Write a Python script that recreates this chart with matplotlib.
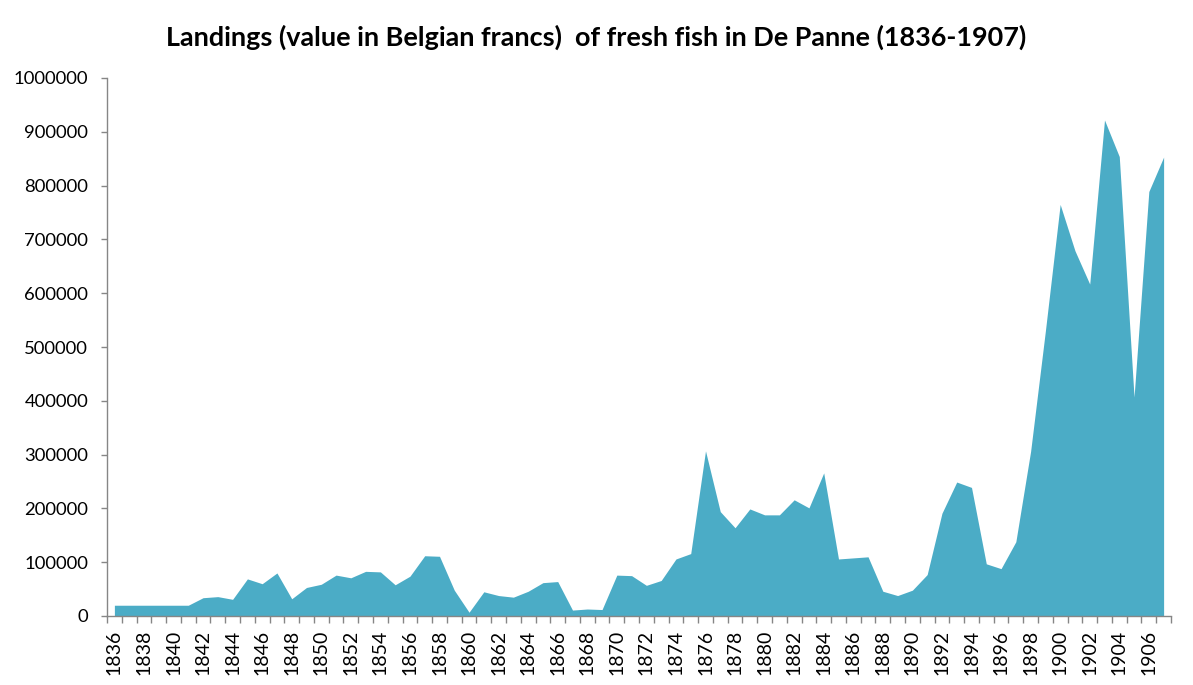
import matplotlib
matplotlib.use("Agg")
import matplotlib.pyplot as plt
import numpy as np

years = list(range(1836, 1908))
values = [20000, 20000, 20000, 20000, 20000, 20000,
          34000, 36000, 31000, 69000, 60000, 80000, 32000, 53000, 59000, 76000,
          71000, 83000, 82000, 58000, 74000, 112000, 111000, 48000, 7000, 45000,
          38000, 35000, 46000, 62000, 64000, 11000, 13000, 12000, 76000, 75000,
          57000, 66000, 106000, 116000, 307000, 194000, 164000, 199000, 188000, 188000,
          216000, 201000, 266000, 106000, 108000, 110000, 46000, 38000, 48000, 77000,
          191000, 249000, 239000, 97000, 88000, 138000, 306000, 530000, 765000, 679000,
          617000, 922000, 854000, 407000, 789000, 853000]
assert len(values) == len(years)
title = "Landings (value in Belgian francs)  of fresh fish in De Panne (1836-1907)"
yticks = list(range(0, 1000001, 100000))
xlabels = [str(y) for y in years[::2]]

plt.rcParams['font.family'] = ['Lato', 'DejaVu Sans']
fig = plt.figure(figsize=(11.93, 6.85), dpi=100)
ax = fig.add_axes([107/1193, 69/685, 1064/1193, 538/685])

x = np.arange(len(years))
ax.fill_between(x, 0, values, color='#4BACC6', linewidth=0)
ax.set_xlim(-0.5, len(years) - 0.5)
ax.set_ylim(0, 1000000)

grey = '#868686'
for s in ['top', 'right']:
    ax.spines[s].set_visible(False)
for s in ['left', 'bottom']:
    ax.spines[s].set_color(grey)
    ax.spines[s].set_linewidth(1.0)

ax.set_yticks(yticks)
ax.set_yticklabels([str(v) for v in yticks])
ax.tick_params(axis='y', length=4.5, width=1, color=grey, pad=9, labelsize=13.3, labelcolor='#000000')

ax.set_xticks(x[::2])
ax.set_xticklabels(xlabels, rotation=90)
ax.set_xticks(np.arange(-0.5, len(years)), minor=True)
ax.tick_params(axis='x', which='major', length=0, pad=10, labelsize=14)
ax.tick_params(axis='x', which='minor', length=4.7, width=1, color=grey)

t = fig.text(0.5, 1 - 37/685, title, ha='center', va='center', fontsize=16, fontweight='bold')
fig.canvas.draw()
w = t.get_window_extent().width
t.set_fontsize(16 * 863 / w)

fig.savefig('out.png', dpi=100)
